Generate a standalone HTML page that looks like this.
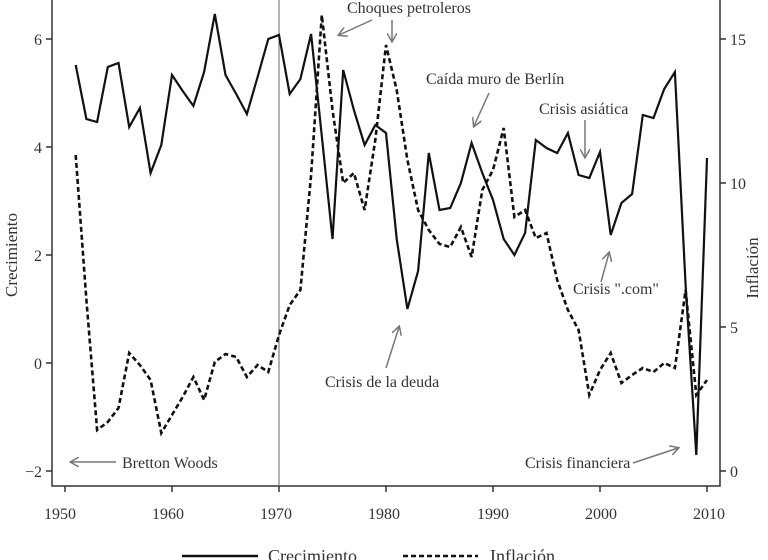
<!DOCTYPE html>
<html><head><meta charset="utf-8"><style>
html,body{margin:0;padding:0;background:#fff}
svg{display:block}
text{font-family:"Liberation Serif",serif}
</style></head><body>
<svg width="768" height="560" viewBox="0 0 768 560" xmlns="http://www.w3.org/2000/svg">
<defs><marker id="ah" markerWidth="10" markerHeight="10" refX="8" refY="5" orient="auto" markerUnits="userSpaceOnUse"><path d="M0,0 L9,5 L0,10" fill="none" stroke="#777" stroke-width="1.5"/></marker></defs>
<g stroke="#333" stroke-width="1.5" fill="none">
<path d="M52,0 V486 H720 V0"/>
<path d="M46,39 H52 M46,147 H52 M46,255 H52 M46,363 H52 M46,471 H52"/>
<path d="M720,39 H726 M720,183 H726 M720,327 H726 M720,471 H726"/>
<path d="M65,486 V492 M172,486 V492 M279,486 V492 M386,486 V492 M493,486 V492 M600,486 V492 M707,486 V492"/>
</g>
<line x1="279" y1="0" x2="279" y2="486" stroke="#666" stroke-width="1"/>
<g font-size="16" fill="#333" text-anchor="end">
<text x="42" y="45">6</text><text x="42" y="153">4</text><text x="42" y="261">2</text><text x="42" y="369">0</text><text x="42" y="477">−2</text>
</g>
<g font-size="16" fill="#333">
<text x="730" y="45">15</text><text x="730" y="189">10</text><text x="730" y="333">5</text><text x="730" y="477">0</text>
</g>
<g font-size="16" fill="#333" text-anchor="middle">
<text x="60" y="519">1950</text><text x="168" y="519">1960</text><text x="276" y="519">1970</text><text x="384" y="519">1980</text><text x="493" y="519">1990</text><text x="601" y="519">2000</text><text x="709" y="519">2010</text>
</g>
<text font-size="17" fill="#333" text-anchor="middle" transform="translate(17,255) rotate(-90)">Crecimiento</text>
<text font-size="17" fill="#333" text-anchor="middle" transform="translate(758,268) rotate(-90)">Inflación</text>
<polyline fill="none" stroke="#111" stroke-width="2.2" stroke-linejoin="miter" points="75.7,65 86.4,119 97.1,122 107.8,67 118.5,63 129.2,127 139.9,108 150.6,173 161.3,145 172,75 182.7,91 193.4,106 204.1,72 214.8,14 225.5,75 236.2,94 246.9,114 257.6,77 268.3,39 279,35 289.7,94 300.4,79 311.1,34 321.8,136 332.5,239 343.2,70 353.9,110 364.6,145 375.3,125 386,133 396.7,239 407.4,309 418.1,271 428.8,153 439.5,210 450.2,208 460.9,183 471.6,143 482.3,173 493,200 503.7,239 514.4,255 525.1,233 535.8,140 546.5,148 557.2,153 567.9,133 578.6,175 589.3,178 600,152 610.7,235 621.4,203 632.1,194 642.8,115 653.5,118 664.2,89 674.9,72 685.6,285 696.3,455 707,158"/>
<polyline fill="none" stroke="#111" stroke-width="2.6" stroke-dasharray="5,3" points="75.7,155 86.4,300 97.1,430 107.8,422 118.5,408 129.2,353 139.9,365 150.6,380 161.3,433 172,415 182.7,397 193.4,377 204.1,400 214.8,362 225.5,354 236.2,357 246.9,377 257.6,365 268.3,372 279,335 289.7,305 300.4,290 311.1,175 321.8,15 332.5,110 343.2,183 353.9,173 364.6,210 375.3,140 386,45 396.7,90 407.4,160 418.1,210 428.8,230 439.5,244 450.2,247 460.9,227 471.6,257 482.3,190 493,170 503.7,128 514.4,217 525.1,210 535.8,238 546.5,233 557.2,280 567.9,310 578.6,330 589.3,395 600,370 610.7,353 621.4,383 632.1,375 642.8,368 653.5,372 664.2,363 674.9,368 685.6,290 696.3,395 707,380"/>
<g stroke="#777" stroke-width="1.5" fill="none" marker-end="url(#ah)">
<line x1="372" y1="20" x2="339" y2="35"/>
<line x1="392" y1="20" x2="392" y2="41"/>
<line x1="489" y1="93" x2="474" y2="126"/>
<line x1="585" y1="120" x2="585" y2="157"/>
<line x1="601" y1="282" x2="609" y2="253"/>
<line x1="386" y1="368" x2="399" y2="327"/>
<line x1="116" y1="462" x2="71" y2="462"/>
<line x1="633" y1="463" x2="678" y2="448"/>
</g>
<g font-size="16" fill="#333">
<text x="347" y="13">Choques petroleros</text>
<text x="426" y="84">Caída muro de Berlín</text>
<text x="539" y="114">Crisis asiática</text>
<text x="573" y="294">Crisis ".com"</text>
<text x="325" y="387">Crisis de la deuda</text>
<text x="122" y="468">Bretton Woods</text>
<text x="525" y="468">Crisis financiera</text>
</g>
<line x1="182" y1="556" x2="258" y2="556" stroke="#111" stroke-width="2.5"/>
<text x="268" y="562" font-size="18" fill="#333">Crecimiento</text>
<line x1="403" y1="556" x2="478" y2="556" stroke="#111" stroke-width="2.6" stroke-dasharray="5,3"/>
<text x="490" y="562" font-size="18" fill="#333">Inflación</text>
</svg>
</body></html>
